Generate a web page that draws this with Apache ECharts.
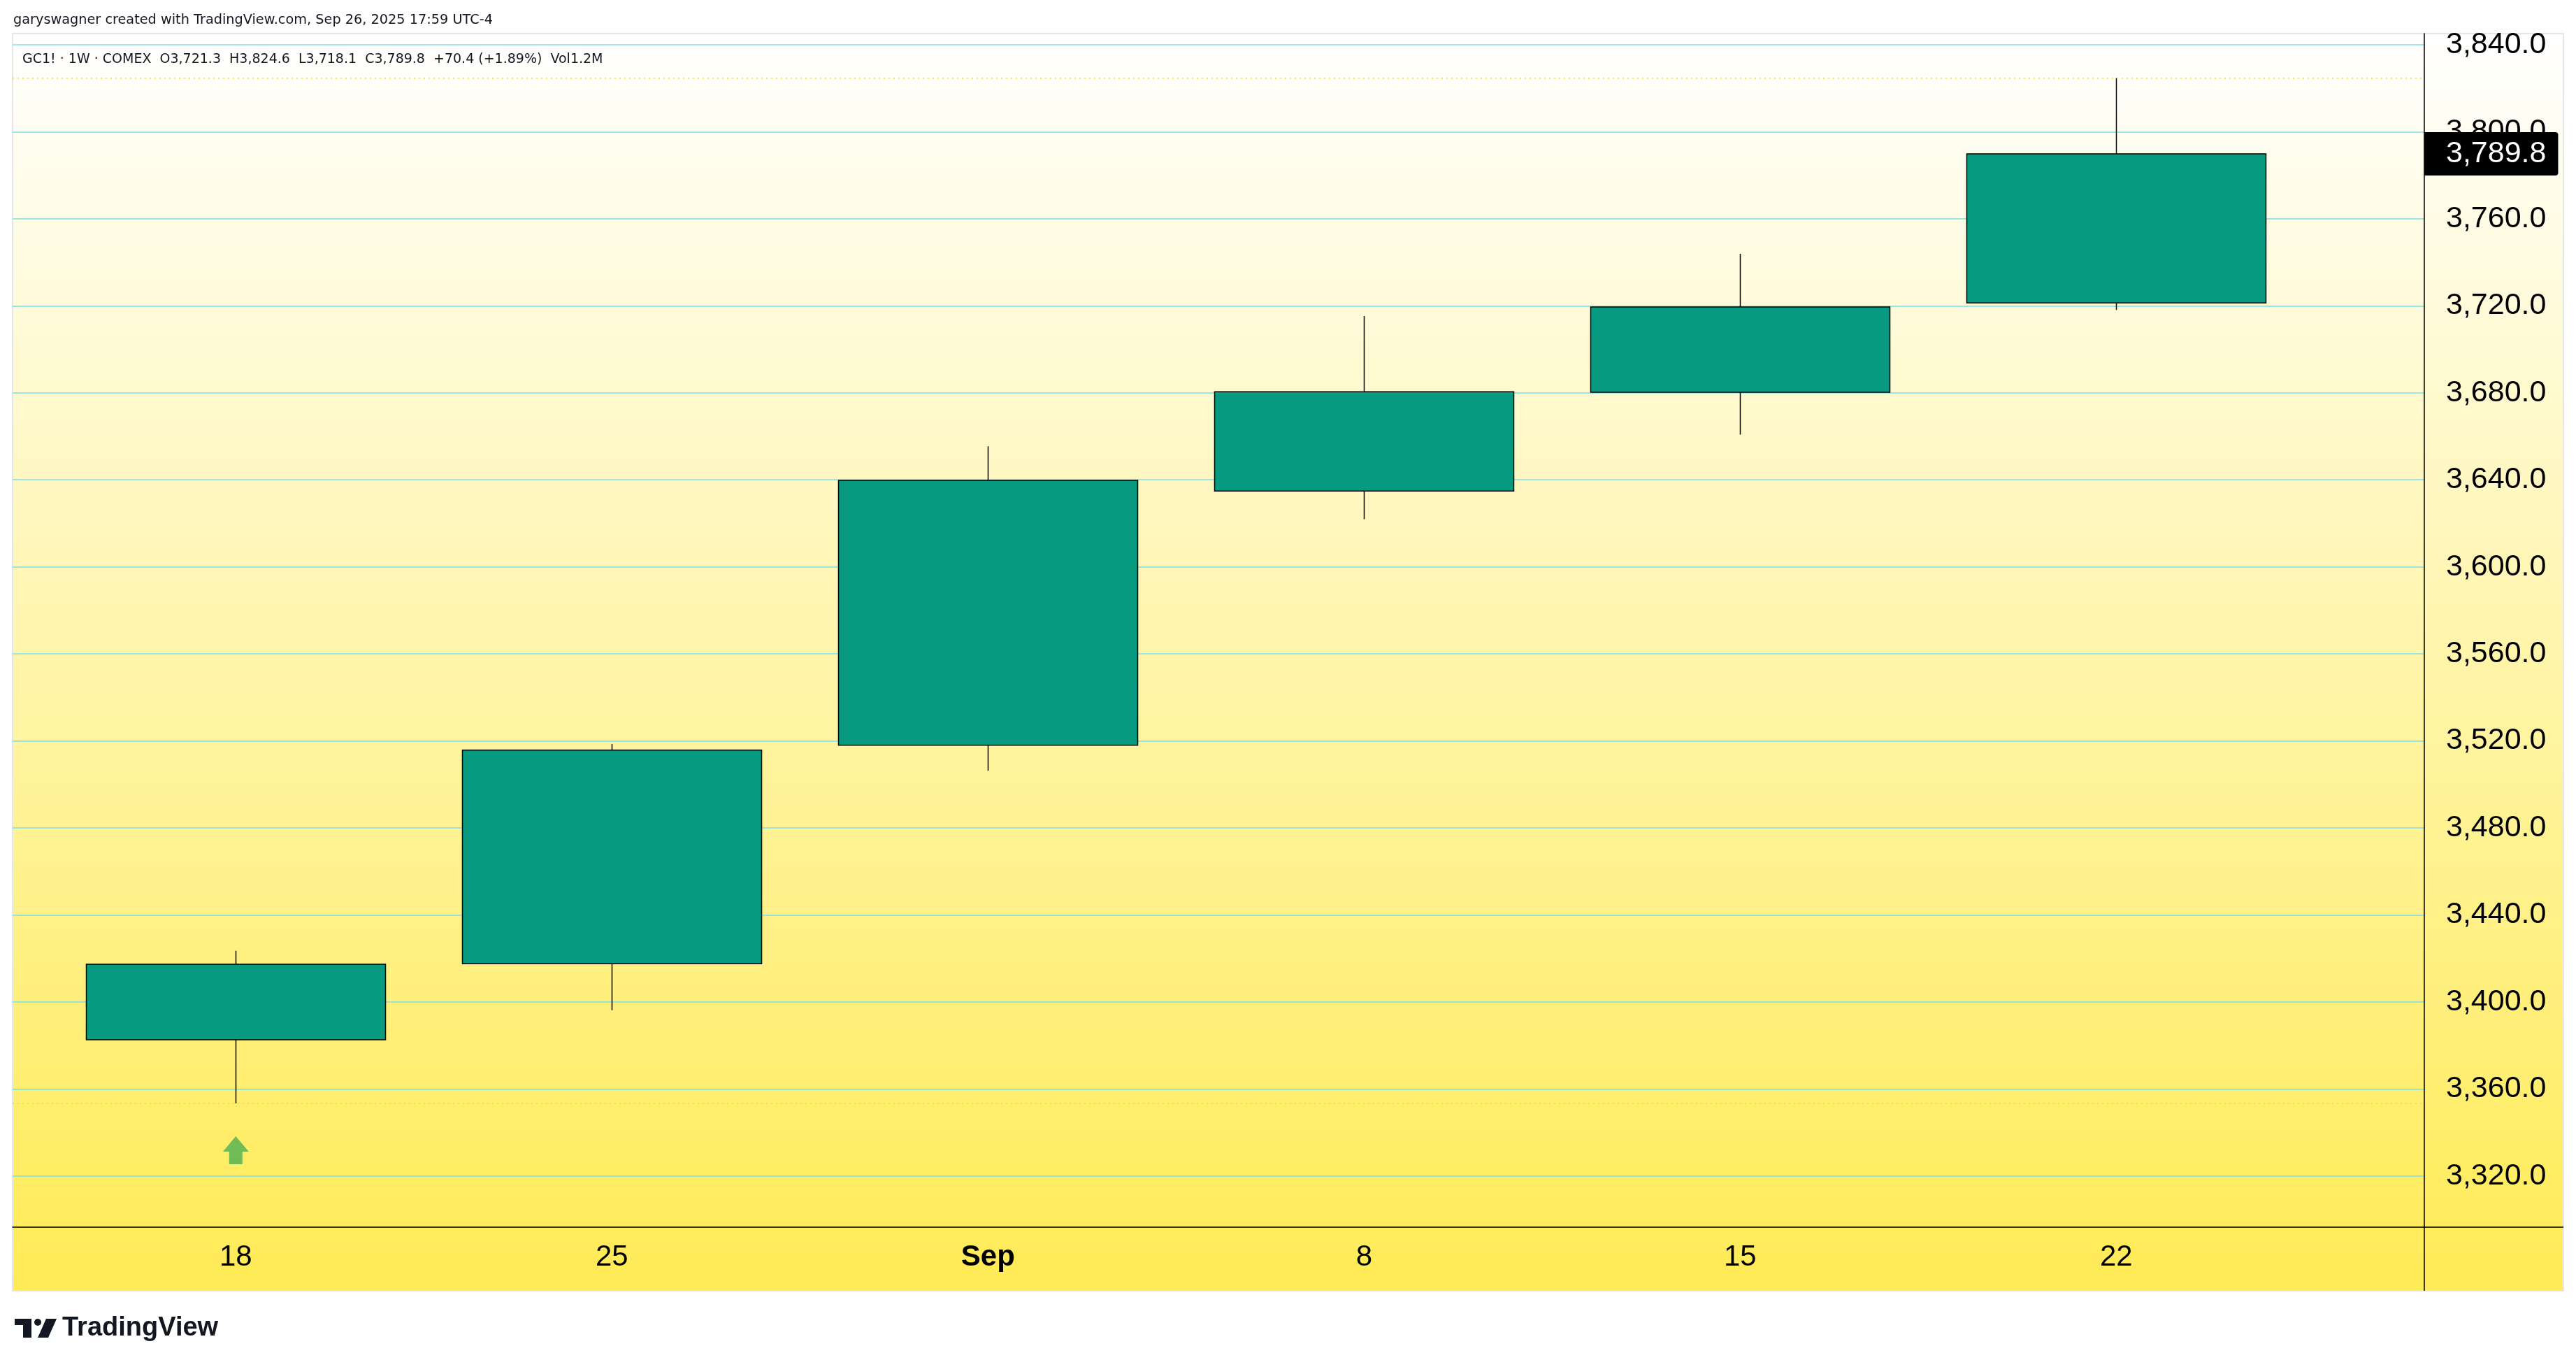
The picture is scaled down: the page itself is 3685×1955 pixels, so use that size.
<!DOCTYPE html>
<html><head><meta charset="utf-8">
<script src="https://cdn.jsdelivr.net/npm/echarts@6/dist/echarts.min.js"></script>
<style>html,body{margin:0;padding:0;background:#fff}#c{width:3685px;height:1955px}</style>
</head><body><div id="c"></div>
<script>
// ---- data (weekly GC1! candles) ----
const weeks = ['18', '25', 'Sep', '8', '15', '22'];
const openP  = [3382.6, 3417.6, 3518.0, 3634.8, 3680.2, 3721.3];
const closeP = [3417.3, 3515.8, 3639.7, 3680.5, 3719.4, 3789.8];
const lowP   = [3353.4, 3396.2, 3506.3, 3621.9, 3660.8, 3718.1];
const highP  = [3423.5, 3518.6, 3655.4, 3715.3, 3743.9, 3824.6];
const priceTicks = [3320, 3360, 3400, 3440, 3480, 3520, 3560, 3600, 3640, 3680, 3720, 3760, 3800, 3840];
const signalBars = [0];
const symbolText = 'GC1! \u00b7 1W \u00b7 COMEX';
const volumeText = '1.2M';
const creditText = 'garyswagner created with TradingView.com, Sep 26, 2025 17:59 UTC-4';

const fmt = v => Number(v).toLocaleString('en-US', {minimumFractionDigits: 1, maximumFractionDigits: 1});
const n = closeP.length;
const lastC = closeP[n - 1], prevC = closeP[n - 2];
const chg = lastC - prevC, pct = chg / prevC * 100;
const headerLine = symbolText + '  O' + fmt(openP[n-1]) + '  H' + fmt(highP[n-1]) + '  L' + fmt(lowP[n-1]) +
  '  C' + fmt(lastC) + '  ' + (chg >= 0 ? '+' : '') + chg.toFixed(1) + ' (' + (pct >= 0 ? '+' : '') + pct.toFixed(2) + '%)  Vol' + volumeText;

const candles = weeks.map((_, i) => [i, openP[i], closeP[i], lowP[i], highP[i]]);
const FONT = 'Liberation Sans';

const chart = echarts.init(document.getElementById('c'), null, {renderer: 'canvas'});
chart.setOption({
  animation: false,
  backgroundColor: '#ffffff',
  title: [
    {text: creditText, left: 19, top: 19, padding: 0,
     textStyle: {fontSize: 19.3, fontWeight: 'normal', color: '#131722', fontFamily: 'DejaVu Sans'}},
    {text: headerLine, left: 32, top: 76, padding: 0,
     textStyle: {fontSize: 19, fontWeight: 'normal', color: '#131722', fontFamily: 'DejaVu Sans'}}
  ],
  grid: {left: 18, right: 217, top: 48, bottom: 200, containLabel: false},
  xAxis: {
    type: 'value', min: -0.5935, max: 5.819,
    axisLine: {show: true, onZero: false, lineStyle: {color: '#000', width: 1.5}},
    axisTick: {show: false, customValues: weeks.map((_, i) => i)},
    splitLine: {show: false},
    axisLabel: {
      customValues: weeks.map((_, i) => i),
      formatter: v => { const t = weeks[Math.round(v)]; return /^\d+$/.test(t) ? t : '{m|' + t + '}'; },
      color: '#000', fontSize: 42, fontFamily: FONT, margin: 22,
      rich: {m: {fontWeight: 'bold', fontSize: 42, fontFamily: FONT, color: '#000'}}
    }
  },
  yAxis: {
    type: 'value', position: 'right', min: 3296.5, max: 3845.1,
    axisLine: {show: true, onZero: false, lineStyle: {color: '#000', width: 1.5}},
    axisTick: {show: false, customValues: priceTicks},
    axisLabel: {customValues: priceTicks, formatter: v => fmt(v), margin: 31, fontSize: 43, color: '#000', fontFamily: FONT},
    splitLine: {show: true, lineStyle: {color: '#80DEEA', width: 1.5}}
  },
  series: [
    {
      type: 'candlestick',
      data: candles,
      barWidth: 428,
      itemStyle: {color: '#089981', color0: '#F23645', borderColor: '#000', borderColor0: '#000', borderWidth: 1.5},
      markLine: {
        silent: true, symbol: 'none', animation: false,
        data: [
          {yAxis: Math.max(...highP), lineStyle: {color: '#F5DC2A', type: [2, 5], width: 1.5}, label: {show: false}},
          {yAxis: Math.min(...lowP), lineStyle: {color: '#F5DC2A', type: [2, 5], width: 1.5}, label: {show: false}},
          {yAxis: lastC, lineStyle: {color: 'rgba(0,0,0,0)', width: 0},
           label: {show: true, position: 'end', distance: 0, formatter: () => fmt(lastC),
                   color: '#fff', backgroundColor: '#000', fontSize: 43, fontFamily: FONT,
                   padding: [10, 17, 9, 31], borderRadius: [0, 4, 4, 0]}}
        ]
      }
    },
    {
      type: 'scatter',
      data: signalBars.map(i => [i, lowP[i]]),
      symbol: 'path://M18.5,0 L37,22 L28,22 L28,40 L9,40 L9,22 L0,22 Z',
      symbolSize: [37, 40],
      symbolOffset: [0, 67],
      itemStyle: {color: '#4CAF50'},
      z: 5, silent: true
    }
  ],
  graphic: [
    {type: 'rect', z: -10, silent: true,
     shape: {x: 18, y: 48, width: 3649, height: 1798},
     style: {fill: new echarts.graphic.LinearGradient(0, 0, 0, 1, [{offset: 0, color: '#FFFFFF'}, {offset: 1, color: '#FFEB55'}]),
             stroke: '#E6E6E6', lineWidth: 2}},
    {type: 'line', z: 10, silent: true, shape: {x1: 3468, y1: 1755, x2: 3468, y2: 1846}, style: {stroke: '#000', lineWidth: 1.5}},
    {type: 'line', z: 10, silent: true, shape: {x1: 3468, y1: 1755, x2: 3667, y2: 1755}, style: {stroke: '#000', lineWidth: 1.5}},
    {type: 'group', silent: true, children: [
      {type: 'rect', shape: {x: 21, y: 1886, width: 24, height: 9}, style: {fill: '#131722'}},
      {type: 'rect', shape: {x: 33, y: 1886, width: 12, height: 27}, style: {fill: '#131722'}},
      {type: 'circle', shape: {cx: 54, cy: 1891, r: 5}, style: {fill: '#131722'}},
      {type: 'polygon', shape: {points: [[66, 1886], [81, 1886], [69, 1913], [54, 1913]]}, style: {fill: '#131722'}},
      {type: 'text', style: {x: 89, y: 1900, text: 'TradingView', font: 'bold 38px "Liberation Sans"', fill: '#131722', verticalAlign: 'middle', align: 'left'}}
    ]}
  ]
});
</script>
</body></html>
